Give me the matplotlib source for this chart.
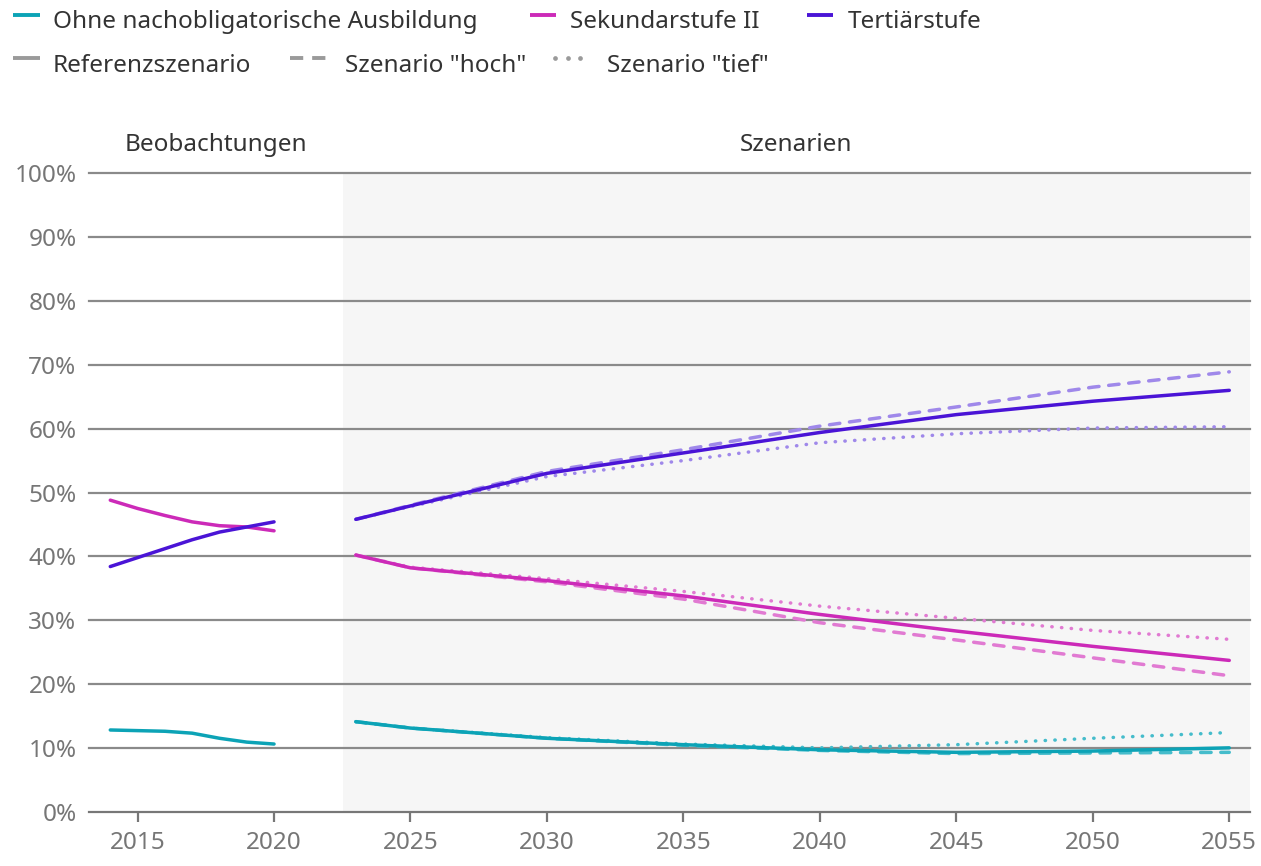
import matplotlib
matplotlib.use("Agg")
import matplotlib.pyplot as plt
from matplotlib.lines import Line2D
from matplotlib.ticker import FuncFormatter

plt.rcParams['font.family'] = ['Noto Sans', 'DejaVu Sans']

# ---------------- data ----------------
years_obs = [2014, 2015, 2016, 2017, 2018, 2019, 2020]
obs_ohne = [12.8, 12.7, 12.6, 12.3, 11.5, 10.9, 10.6]
obs_sek = [48.8, 47.5, 46.4, 45.4, 44.8, 44.6, 44.0]
obs_tert = [38.4, 39.8, 41.2, 42.6, 43.8, 44.6, 45.4]

years_scen = [2023, 2025, 2030, 2035, 2040, 2045, 2050, 2055]
tert_ref = [45.8, 47.9, 53.0, 56.2, 59.4, 62.2, 64.3, 66.0]
tert_hoch = [45.8, 48.0, 53.3, 56.7, 60.4, 63.4, 66.5, 68.9]
tert_tief = [45.8, 47.8, 52.5, 55.0, 57.8, 59.2, 60.1, 60.3]
sek_ref = [40.2, 38.2, 36.2, 33.8, 30.9, 28.3, 25.9, 23.7]
sek_hoch = [40.2, 38.2, 36.0, 33.3, 29.6, 26.9, 24.1, 21.3]
sek_tief = [40.2, 38.3, 36.5, 34.5, 32.2, 30.3, 28.4, 27.0]
ohne_ref = [14.1, 13.1, 11.5, 10.5, 9.7, 9.3, 9.5, 10.0]
ohne_hoch = [14.1, 13.1, 11.5, 10.4, 9.6, 9.1, 9.2, 9.3]
ohne_tief = [14.1, 13.1, 11.6, 10.6, 10.0, 10.5, 11.5, 12.4]

categories = ["Ohne nachobligatorische Ausbildung", "Sekundarstufe II", "Tertiärstufe"]
scenarios = ["Referenzszenario", 'Szenario "hoch"', 'Szenario "tief"']
x_ticks = [2015, 2020, 2025, 2030, 2035, 2040, 2045, 2050, 2055]
y_ticks = [0, 10, 20, 30, 40, 50, 60, 70, 80, 90, 100]

# ---------------- styles ----------------
c_main = {"ohne": "#0ca3b6", "sek": "#cc2ab8", "tert": "#4a14d6"}
c_light = {"ohne": "#45bccb", "sek": "#e17ad2", "tert": "#9f88ea"}
lw = 2.5
dash = (0, (3.0, 2.8))
dot = (0, (0.1, 2.7))
FS = 17.5
W, H = 1261, 866

fig = plt.figure(figsize=(W / 100, H / 100), dpi=100)
ax = fig.add_axes([89 / W, 1 - 811.7 / H, (1250 - 89) / W, (811.7 - 173.3) / H])

xmin, xmax = 2013.22, 2055.76
scen_start = 2022.53
ax.set_xlim(xmin, xmax)
ax.set_ylim(0, 100)

ax.axvspan(scen_start, xmax, color="#f6f6f6", zorder=0, lw=0)
for y in y_ticks[1:]:
    ax.axhline(y, color="#8a8a8a", lw=1.6, zorder=1, clip_on=False)

series = [
    ("ohne", obs_ohne, ohne_ref, ohne_hoch, ohne_tief),
    ("sek", obs_sek, sek_ref, sek_hoch, sek_tief),
    ("tert", obs_tert, tert_ref, tert_hoch, tert_tief),
]
for key, obs, ref, hoch, tief in series:
    ax.plot(years_scen, tief, color=c_light[key], lw=lw, linestyle=dot,
            dash_capstyle="round", zorder=2)
    ax.plot(years_scen, hoch, color=c_light[key], lw=lw, linestyle=dash,
            dash_capstyle="round", zorder=3)
for key, obs, ref, hoch, tief in series:
    ax.plot(years_obs, obs, color=c_main[key], lw=lw, solid_capstyle="round", zorder=4)
    ax.plot(years_scen, ref, color=c_main[key], lw=lw, solid_capstyle="round", zorder=4)

for s in ["top", "right", "left"]:
    ax.spines[s].set_visible(False)
ax.spines["bottom"].set_color("#777777")
ax.spines["bottom"].set_linewidth(1.6)
ax.set_xticks(x_ticks)
ax.set_yticks(y_ticks)
ax.yaxis.set_major_formatter(FuncFormatter(lambda v, p: f"{int(v)}%"))
ax.tick_params(axis="x", length=7, width=1.6, color="#777777", labelcolor="#767676",
               labelsize=FS, pad=7)
ax.tick_params(axis="y", length=0, labelcolor="#767676", labelsize=FS, pad=9)

ax.text((xmin + scen_start) / 2, 104.5, "Beobachtungen", ha="center", va="center",
        fontsize=FS, color="#333333")
ax.text((scen_start + xmax) / 2, 104.5, "Szenarien", ha="center", va="center",
        fontsize=FS, color="#333333")

# ---------------- legend (figure pixel layout) ----------------
def fx(px):
    return px / W


def fy(py):
    return 1 - py / H


row1 = [(13, 40, 53), (530, 556, 570), (807, 833, 848)]
for (x0, x1, tx), key, label in zip(row1, ["ohne", "sek", "tert"], categories):
    fig.add_artist(Line2D([fx(x0), fx(x1)], [fy(15), fy(15)], color=c_main[key], lw=2.8,
                          transform=fig.transFigure, solid_capstyle="butt"))
    fig.text(fx(tx), fy(28), label, fontsize=FS, color="#333333", va="baseline", ha="left")

g = "#9a9a9a"
fig.add_artist(Line2D([fx(13), fx(40)], [fy(58), fy(58)], color=g, lw=2.8,
                      transform=fig.transFigure, solid_capstyle="butt"))
fig.add_artist(Line2D([fx(290), fx(327)], [fy(58), fy(58)], color=g, lw=2.8,
                      linestyle=(0, (3.4, 2.3)), dash_capstyle="butt",
                      transform=fig.transFigure))
fig.add_artist(Line2D([fx(555), fx(567.5), fx(580)], [fy(58)] * 3, color=g, lw=0,
                      marker="o", markersize=3.4, markeredgewidth=0,
                      transform=fig.transFigure))
for tx, label in zip([53, 345, 607], scenarios):
    fig.text(fx(tx), fy(71.5), label, fontsize=FS, color="#333333", va="baseline", ha="left")

fig.savefig("out.png", dpi=100)
